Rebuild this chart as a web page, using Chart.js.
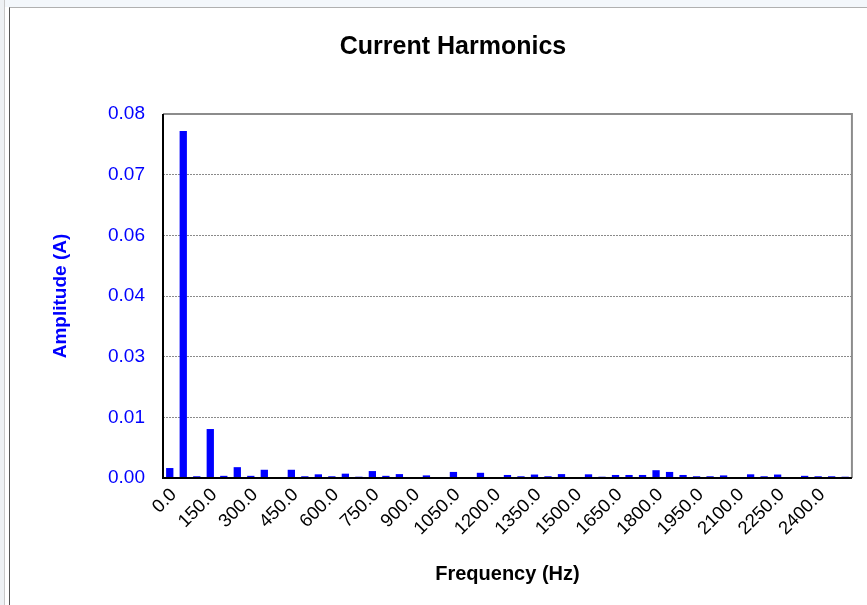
<!DOCTYPE html>
<html lang="en">
<head>
    <meta charset="UTF-8">
    <title>Current Harmonics</title>
    <script src="https://cdn.jsdelivr.net/npm/chart.js"></script>
    <style>
        html, body { margin: 0; padding: 0; background: #fff; }
        body { width: 867px; height: 605px; position: relative; overflow: hidden; }
        .strip { position: absolute; left: 0; top: 0; width: 867px; height: 7px; background: #f3f7fb; }
        .edge { position: absolute; left: 0; top: 0; width: 4px; height: 605px; background: #eef1f4; border-right: 1px solid #c8c8c8; }
        .frame { position: absolute; left: 9px; top: 7px; width: 870px; height: 610px; border-left: 1px solid #555; border-top: 1px solid #b0b0b0; }
        #wrap { position: absolute; left: 0; top: 0; width: 867px; height: 605px; }
    </style>
</head>
<body>
<div class="strip"></div>
<div class="edge"></div>
<div class="frame"></div>
<div id="wrap"><canvas id="myChart" width="867" height="605"></canvas></div>
<script>
    // frequencies in Hz, 50 Hz steps
    const frequencies = ['0.0', '50.0', '100.0', '150.0', '200.0', '250.0', '300.0', '350.0', '400.0', '450.0',
        '500.0', '550.0', '600.0', '650.0', '700.0', '750.0', '800.0', '850.0', '900.0', '950.0',
        '1000.0', '1050.0', '1100.0', '1150.0', '1200.0', '1250.0', '1300.0', '1350.0', '1400.0', '1450.0',
        '1500.0', '1550.0', '1600.0', '1650.0', '1700.0', '1750.0', '1800.0', '1850.0', '1900.0', '1950.0',
        '2000.0', '2050.0', '2100.0', '2150.0', '2200.0', '2250.0', '2300.0', '2350.0', '2400.0', '2450.0',
        '2500.0'];

    // amplitude in A
    const amplitudes = [0.0023, 0.0801, 0.0004, 0.0113, 0.0005, 0.0025, 0.0005, 0.0019, 0.0002, 0.0019,
        0.0004, 0.00085, 0.0004, 0.0010, 0.0003, 0.0016, 0.0005, 0.0009, 0.0002, 0.0006,
        0.0002, 0.0014, 0.0002, 0.0012, 0.0002, 0.0007, 0.0004, 0.0008, 0.0004, 0.0009,
        0.0002, 0.00085, 0.0003, 0.0007, 0.0007, 0.0007, 0.0018, 0.0014, 0.0007, 0.0004,
        0.0004, 0.0006, 0.0002, 0.00085, 0.0004, 0.0008, 0.0002, 0.0005, 0.0004, 0.0004,
        0.0003];

    const yMax = 0.084;
    const yStep = 0.014;
    const labelEvery = 3;
    const chartTitle = 'Current Harmonics';

    // plot frame (grey top/right, black left/bottom) and the chart title, centred like the sheet
    const plotFrame = {
        id: 'plotFrame',
        afterDatasetsDraw(chart) {
            const {ctx, chartArea: a} = chart;
            ctx.save();
            ctx.strokeStyle = '#8c8c8c';
            ctx.lineWidth = 2;
            ctx.beginPath();
            ctx.moveTo(a.left, a.top);
            ctx.lineTo(a.right, a.top);
            ctx.lineTo(a.right, a.bottom);
            ctx.stroke();
            ctx.strokeStyle = '#000';
            ctx.beginPath();
            ctx.moveTo(a.left, a.top);
            ctx.lineTo(a.left, a.bottom);
            ctx.lineTo(a.right, a.bottom);
            ctx.stroke();

            ctx.fillStyle = '#000';
            ctx.font = 'bold 25px "Liberation Sans", Arial, sans-serif';
            ctx.textAlign = 'center';
            ctx.textBaseline = 'middle';
            ctx.fillText(chartTitle, 453, 47);
            ctx.restore();
        }
    };

    const ctx = document.getElementById('myChart').getContext('2d');
    new Chart(ctx, {
        type: 'bar',
        data: {
            labels: frequencies,
            datasets: [{
                label: 'Amplitude (A)',
                data: amplitudes,
                backgroundColor: '#0000ff',
                categoryPercentage: 1.0,
                barPercentage: 0.54
            }]
        },
        options: {
            responsive: false,
            animation: false,
            layout: {
                padding: {left: 10, right: 14, top: 114, bottom: 10}
            },
            plugins: {
                legend: {display: false},
                tooltip: {enabled: false},
                title: {display: false}
            },
            scales: {
                x: {
                    afterFit: s => { s.height = 117; },
                    grid: {display: false, drawTicks: false},
                    border: {display: false},
                    ticks: {
                        autoSkip: false,
                        maxRotation: 45,
                        minRotation: 45,
                        padding: 6,
                        labelOffset: 4,
                        color: '#000',
                        font: {family: 'Liberation Sans, Arial, sans-serif', size: 18.5},
                        callback: function (v, i) { return i % labelEvery === 0 ? this.getLabelForValue(v) : ''; }
                    },
                    title: {
                        display: true,
                        text: 'Frequency (Hz)',
                        color: '#000',
                        font: {family: 'Liberation Sans, Arial, sans-serif', size: 20, weight: 'bold'},
                        padding: {top: 0, bottom: 9}
                    }
                },
                y: {
                    min: 0,
                    max: yMax,
                    afterFit: s => { s.width = 153; },
                    grid: {color: '#8a8a8a', lineWidth: 1, drawTicks: false},
                    border: {display: false, dash: [2, 1]},
                    ticks: {
                        stepSize: yStep,
                        padding: 18,
                        color: '#0000ff',
                        font: {family: 'Liberation Sans, Arial, sans-serif', size: 19},
                        callback: v => v.toFixed(2)
                    },
                    title: {
                        display: true,
                        text: 'Amplitude (A)',
                        color: '#0000ff',
                        font: {family: 'Liberation Sans, Arial, sans-serif', size: 19, weight: 'bold'},
                        padding: {top: 39, bottom: 0}
                    }
                }
            }
        },
        plugins: [plotFrame]
    });
</script>
</body>
</html>
